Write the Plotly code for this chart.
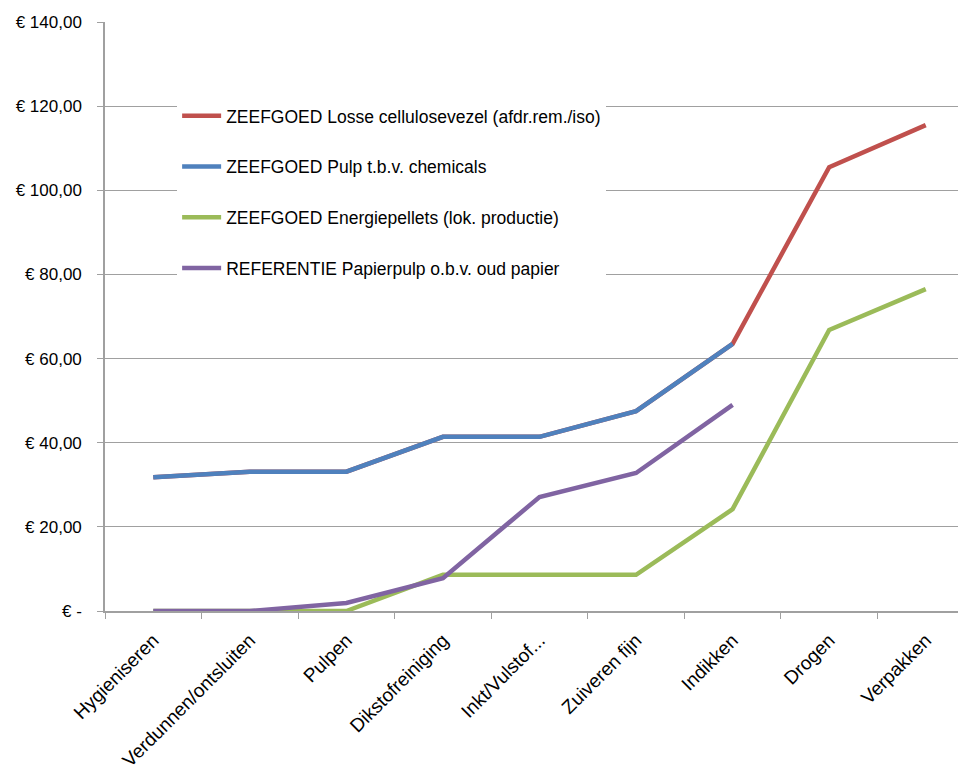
import plotly.graph_objects as go

categories = ["Hygieniseren", "Verdunnen/ontsluiten", "Pulpen", "Dikstofreiniging",
              "Inkt/Vulstof...", "Zuiveren fijn", "Indikken", "Drogen", "Verpakken"]

losse_cellulose = [31.8, 33.1, 33.1, 41.4, 41.4, 47.5, 63.5, 105.5, 115.5]
pulp_chemicals = [31.8, 33.1, 33.1, 41.4, 41.4, 47.5, 63.5, None, None]
energiepellets = [0.0, 0.0, 0.0, 8.6, 8.6, 8.6, 24.2, 66.8, 76.5]
referentie = [0.0, 0.0, 1.9, 7.8, 27.1, 32.8, 49.0, None, None]

series_names = [
    "ZEEFGOED Losse cellulosevezel (afdr.rem./iso)",
    "ZEEFGOED Pulp t.b.v. chemicals",
    "ZEEFGOED Energiepellets (lok. productie)",
    "REFERENTIE Papierpulp o.b.v. oud papier",
]
series_values = [losse_cellulose, pulp_chemicals, energiepellets, referentie]
colors = ["#C0504D", "#4F81BD", "#9BBB59", "#8064A2"]

y_tickvals = [0, 20, 40, 60, 80, 100, 120, 140]
y_ticktext = ["€ -", "€ 20,00", "€ 40,00", "€ 60,00", "€ 80,00", "€ 100,00", "€ 120,00", "€ 140,00"]

FONT = "Liberation Sans, Arial, sans-serif"

fig = go.Figure()
for i, (name, vals, col) in enumerate(zip(series_names, series_values, colors)):
    fig.add_trace(go.Scatter(
        x=categories, y=vals, name=name, mode="lines",
        line=dict(color=col, width=4.5),
        legendgroup=f"g{i}",
        connectgaps=False,
    ))

fig.update_layout(
    width=966, height=769,
    margin=dict(l=97, r=0, t=14, b=166),
    paper_bgcolor="white", plot_bgcolor="white",
    font=dict(family=FONT, size=14, color="#000000"),
    showlegend=True,
    legend=dict(
        x=0.083, y=0.871, xanchor="left", yanchor="top",
        bgcolor="white", borderwidth=0,
        traceorder="grouped", tracegroupgap=25,
        font=dict(family=FONT, size=17.5, color="#000000"),
        itemwidth=39,
    ),
    xaxis=dict(
        type="category",
        showgrid=False,
        showline=True, linecolor="#A0A0A0", linewidth=1.5,
        ticks="outside", tickson="boundaries", ticklen=6, tickcolor="#A0A0A0",
        tickangle=-45, ticklabelstandoff=9,
        tickfont=dict(family=FONT, size=19, color="#000000"),
        range=[-0.5, 8.5],
    ),
    yaxis=dict(
        range=[0, 140],
        tickvals=y_tickvals, ticktext=y_ticktext,
        showgrid=True, gridcolor="#A0A0A0", gridwidth=1.2,
        showline=True, linecolor="#A0A0A0", linewidth=1.5,
        ticks="outside", ticklen=6, tickcolor="#A0A0A0", ticklabelstandoff=12,
        tickfont=dict(family=FONT, size=17, color="#000000"),
        zeroline=False,
    ),
)

fig.write_html("out.html")
